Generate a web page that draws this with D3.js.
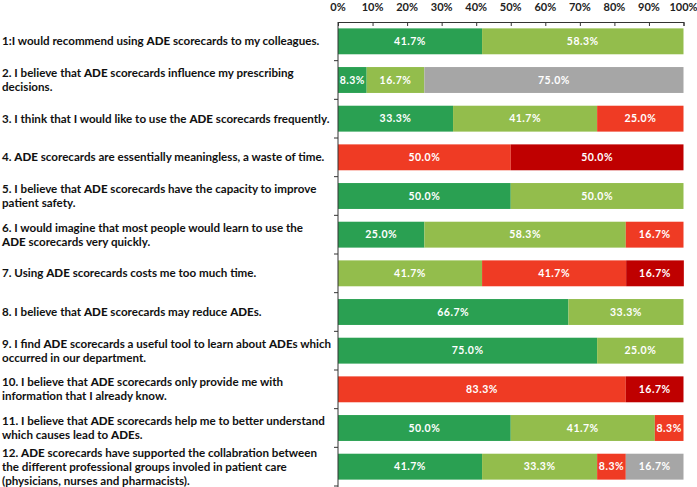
<!DOCTYPE html>
<html><head><meta charset="utf-8">
<script src="https://cdn.jsdelivr.net/npm/d3@7"></script>
<style>
body{margin:0;background:#fff;}
svg{display:block;}
text{font-family:Lato,"Open Sans",sans-serif;}
</style></head>
<body><svg id="c" width="697" height="487"></svg>
<script>
const questions = [
  ["1:I would recommend using ADE scorecards to my colleagues."],
  ["2. I believe that ADE scorecards influence my prescribing","decisions."],
  ["3. I think that I would like to use the ADE scorecards frequently."],
  ["4. ADE scorecards are essentially meaningless, a waste of time."],
  ["5. I believe that ADE scorecards have the capacity to improve","patient safety."],
  ["6. I would imagine that most people would learn to use the","ADE scorecards very quickly."],
  ["7. Using ADE scorecards costs me too much time."],
  ["8. I believe that ADE scorecards may reduce ADEs."],
  ["9. I find ADE scorecards a useful tool to learn about ADEs which","occurred in our department."],
  ["10. I believe that ADE scorecards only provide me with","information that I already know."],
  ["11. I believe that ADE scorecards help me to better understand","which causes lead to ADEs."],
  ["12. ADE scorecards have supported the collabration between","the different professional groups involed in patient care","(physicians, nurses and pharmacists)."]
];
const seriesKeys = ["Strongly agree","Agree","Disagree","Strongly disagree","No opinion"];
const stronglyAgree    = [41.7, 8.3, 33.3, 0,    50.0, 25.0, 0,    66.7, 75.0, 0,    50.0, 41.7];
const agree            = [58.3, 16.7, 41.7, 0,   50.0, 58.3, 41.7, 33.3, 25.0, 0,    41.7, 33.3];
const disagree         = [0,    0,    25.0, 50.0, 0,    16.7, 41.7, 0,    0,    83.3, 8.3,  8.3];
const stronglyDisagree = [0,    0,    0,    50.0, 0,    0,    16.7, 0,    0,    16.7, 0,    0];
const noOpinion        = [0,    75.0, 0,    0,    0,    0,    0,    0,    0,    0,    0,    16.7];
const colors = ["#2aa052","#93bd4c","#ef3b24","#bf0000","#a6a6a6"];
const tickValues = [0,10,20,30,40,50,60,70,80,90,100];

const seriesVals = [stronglyAgree, agree, disagree, stronglyDisagree, noOpinion];
const rows = questions.map((q,i)=>{
  const o = {id:i, q:q};
  seriesKeys.forEach((k,j)=>o[k]=seriesVals[j][i]);
  return o;
});

const svg = d3.select("#c");
const x = d3.scaleLinear().domain([0,100]).range([338,683.5]);
const y = d3.scaleBand().domain(rows.map(d=>d.id)).range([22,486]).paddingInner(0.33).paddingOuter(0.165);

const stack = d3.stack().keys(seriesKeys)(rows);
const g = svg.append("g");
stack.forEach((layer,j)=>{
  layer.forEach(seg=>{
    const w = x(seg[1])-x(seg[0]);
    if(w<=0) return;
    g.append("rect").attr("x",x(seg[0])).attr("y",y(seg.data.id))
      .attr("width",w).attr("height",y.bandwidth()).attr("fill",colors[j]);
    g.append("text").attr("x",(x(seg[0])+x(seg[1]))/2).attr("y",y(seg.data.id)+y.bandwidth()/2)
      .attr("dy","0.35em").attr("text-anchor","middle").attr("fill","#fff")
      .attr("font-size","10.5px").attr("font-weight","700").attr("letter-spacing","0.5px")
      .text((seg[1]-seg[0]).toFixed(1)+"%");
  });
});

// top axis
const xa = svg.append("g").attr("transform","translate(0,22)")
  .call(d3.axisBottom(x).tickValues(tickValues).tickSize(4).tickFormat(""));
xa.select(".domain").attr("stroke","#333");
xa.selectAll(".tick line").attr("stroke","#333");
svg.append("g").selectAll("text").data(tickValues).join("text")
  .attr("x",d=>x(d)).attr("y",11).attr("text-anchor","middle")
  .attr("font-size","11px").attr("font-weight","700").attr("fill","#222")
  .text(d=>d+"%");

// left axis
const yEdges = d3.range(0,13).map(i=>22+i*(486-22)/12);
svg.append("line").attr("x1",338).attr("x2",338).attr("y1",22).attr("y2",487).attr("stroke","#333");
svg.append("g").selectAll("line").data(yEdges.slice(1)).join("line")
  .attr("x1",334).attr("x2",338).attr("y1",d=>d).attr("y2",d=>d).attr("stroke","#333");

// labels
const lab = svg.append("g");
rows.forEach(r=>{
  const cy = y(r.id)+y.bandwidth()/2;
  const n = r.q.length, lh = 14;
  r.q.forEach((line,k)=>{
    const t = lab.append("text").attr("x",2).attr("y",cy+(k-(n-1)/2)*lh).attr("dy","0.35em")
      .attr("font-size","11.6px").attr("font-weight","700").attr("fill","#111");
    const parts = line.split(/(ADE)/);
    parts.forEach(p=>{ if(p==="") return;
      t.append("tspan").attr("font-weight",p==="ADE"?"900":"700").text(p);
    });
  });
});
</script></body></html>
